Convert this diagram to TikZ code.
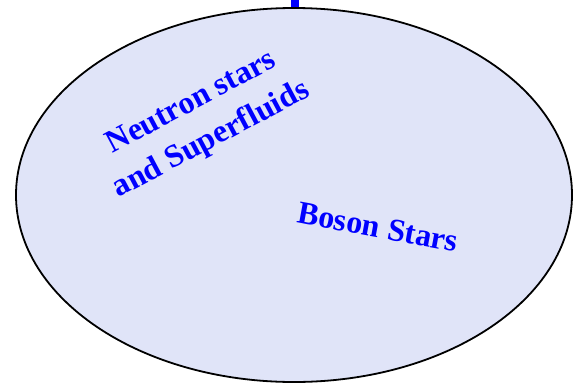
\documentclass[tikz,border=0pt]{standalone}
\usepackage{fontspec}
\usetikzlibrary{shapes.geometric}
\setmainfont{Liberation Serif}
\definecolor{fillc}{RGB}{224,228,248}
\definecolor{labc}{RGB}{0,0,255}
\tikzset{
  lab/.style={text=labc, font=\bfseries\fontsize{32}{42}\selectfont, align=center, inner sep=0pt},
  region/.style={draw=black, line width=1.8pt, fill=fillc}
}
\begin{document}
\begin{tikzpicture}[x=1pt,y=-1pt]
\useasboundingbox (0,0) rectangle (574,384);
\coordinate (top) at (295,0);
\coordinate (topend) at (295,10);
\draw[labc, line width=8pt] (top) -- (topend);
\node[region, ellipse, minimum width=556pt, minimum height=374pt, inner sep=0pt] (ell) at (294,195) {};
\node[lab, rotate=28] (ns) at (202,122) {Neutron stars\\and Superfluids};
\node[lab, rotate=-10.5] (bs) at (378,227) {Boson Stars};
\end{tikzpicture}
\end{document}
